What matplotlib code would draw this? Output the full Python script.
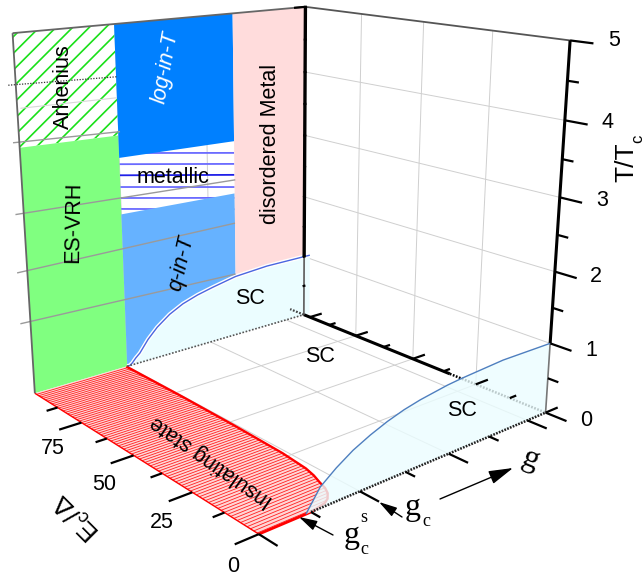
import numpy as np
import matplotlib
matplotlib.use("Agg")
import matplotlib.pyplot as plt
from mpl_toolkits.mplot3d.art3d import Poly3DCollection

plt.rcParams['font.family'] = ['Liberation Sans', 'DejaVu Sans']
plt.rcParams['mathtext.fontset'] = 'custom'
plt.rcParams['mathtext.rm'] = 'Liberation Sans'
plt.rcParams['mathtext.it'] = 'Liberation Sans:italic'
plt.rcParams['hatch.color'] = '#19e019'
plt.rcParams['hatch.linewidth'] = 1.2

W, H = 644, 577

# limits of the box
g_max = 3.25
E_max = 100
T_max = 5

# ticks
g_major = [0, 1, 2, 3]
g_minor = [0.5, 1.5, 2.5]
E_major = [0, 25, 50, 75]
E_minor = [12.5, 37.5, 62.5, 87.5]
E_back_major = [0, 25, 50, 75, 97]
T_major = [0, 1, 2, 3, 4, 5]
T_minor = [0.5, 1.5, 2.5, 3.5, 4.5]
E_labels = ['0', '25', '50', '75']
T_labels = ['0', '1', '2', '3', '4', '5']

# regions on the back wall (E = E_max), g and T
g_wall_1 = 1.0
g_wall_2 = 2.33
T_arrhenius = 3.5
T_log_left = 3.14
T_log_right = 3.10
T_q_left = 2.32
T_q_right = 2.29

# superconducting dome on the back wall
dome_g = [1.0, 1.03, 1.06, 1.1, 1.15, 1.25, 1.36, 1.51, 1.67, 1.85, 2.04, 2.33, 2.74, 3.33]
dome_T = [0.0, 0.0, 0.03, 0.09, 0.15, 0.33, 0.48, 0.63, 0.74, 0.82, 0.88, 0.96, 1.0, 1.0]

# superconducting dome on the front (E = 0)
sc_g = [0.45, 0.59, 0.75, 0.92, 1.1, 1.28, 1.46, 1.64, 1.95, 2.12, 2.63, 3.25]
sc_T = [0.0, 0.27, 0.43, 0.57, 0.68, 0.77, 0.84, 0.89, 0.95, 0.97, 1.01, 1.0]

# edge of the insulating state on the floor
ins_E = [100, 71.3, 48.1, 27, 17, 13, 9.5, 6.5, 4.2, 2.2, 1.1, 0]
ins_g = [0.99, 0.99, 0.98, 0.96, 0.93, 0.90, 0.86, 0.83, 0.79, 0.73, 0.67, 0.5]

# blue lines of the metallic region, T at both ends
metal_T_left = [3.21, 3.05, 2.89, 2.72, 2.56, 2.40]
metal_T_right = [2.92, 2.75, 2.58, 2.39, 2.22, 2.04]

# darker lines over the back wall: g, T at each end
wall_line_g = [(-0.06, 1.02), (-0.08, 2.34), (-0.10, 2.33), (-0.10, 2.33)]
wall_line_T = [(3.58, 3.51), (2.61, 2.50), (1.80, 1.82), (1.07, 1.0)]

camera_world = np.array([
    [0, 0, 0], [1, 0, 0], [2, 0, 0], [3, 0, 0], [3.25, 0, 0],
    [0, 25, 0], [0, 50, 0], [0, 75, 0], [0, 100, 0], [3.25, 100, 0],
    [3.25, 0, 1], [3.25, 0, 2], [3.25, 0, 3], [3.25, 0, 4], [3.25, 0, 5],
    [0, 100, 5], [3.25, 100, 5], [3.25, 100, 1], [3.25, 100, 2], [3.25, 100, 3], [3.25, 100, 4],
], float)
camera_pixel = np.array([
    [256.7, 533.3], [359, 491], [448, 453], [528, 421.7], [546.7, 412.3],
    [190.7, 492], [136.7, 457], [85, 425], [32.3, 391.7], [304, 313],
    [550.7, 343], [554, 271.7], [560, 197], [565, 120], [570, 40.7],
    [12.7, 32], [306, 6.7], [303.3, 257], [304, 197], [304.5, 136], [305, 73],
], float)


def fit_camera(world, pixel):
    rows = []
    for (x, y, z), (u, v) in zip(world, pixel):
        rows.append([x, y, z, 1, 0, 0, 0, 0, -u*x, -u*y, -u*z, -u])
        rows.append([0, 0, 0, 0, x, y, z, 1, -v*x, -v*y, -v*z, -v])
    P = np.linalg.svd(np.array(rows))[2][-1].reshape(3, 4)
    if (P @ [1, 50, 2, 1])[2] < 0:
        P = -P
    return P


camera = fit_camera(camera_world, camera_pixel)

fig = plt.figure(figsize=(W/100, H/100), dpi=100)
ax = fig.add_axes([0, 0, 1, 1], projection='3d', computed_zorder=False)
ax.set_axis_off()
ax.set_proj_type('ortho')
ax.patch.set_alpha(0)


def get_proj():
    # the picture has its own perspective, so the projection comes from the fit
    flip = np.array([[1, 0, 0], [0, -1, H], [0, 0, 1]], float)
    to_data = np.linalg.inv(ax.transData.get_affine().get_matrix())
    D = to_data @ flip @ camera
    return np.array([D[0], D[1], [0, 0, 0, 1], D[2]])


ax.get_proj = get_proj


def line(g, E, T, color='k', lw=1.0, z=5, **kw):
    n = max(np.size(g), np.size(E), np.size(T))
    g, E, T = [np.full(n, v) if np.size(v) == 1 else np.asarray(v, float) for v in (g, E, T)]
    ax.plot(g, E, T, color=color, lw=lw, zorder=z, clip_on=False,
            solid_capstyle='butt', dash_capstyle='butt', **kw)


def poly(g, E, T, face, z=2, **kw):
    n = max(np.size(g), np.size(E), np.size(T))
    g, E, T = [np.full(n, v) if np.size(v) == 1 else np.asarray(v, float) for v in (g, E, T)]
    p = Poly3DCollection([list(zip(g, E, T))], facecolors=face, linewidths=0,
                         edgecolors='none', zorder=z, clip_on=False, **kw)
    ax.add_collection3d(p, autolim=False)


def label(x, y, s, size=15.5, **kw):
    fig.text(x/W, 1 - y/H, s, fontsize=size, ha='center', va='center', **kw)


# grid
grid_kw = dict(color='#cfcfcf', lw=0.7, z=1)
for v in g_major[1:]:
    line(v, [0, E_max], 0, **grid_kw)
    line(v, E_max, [0, T_max], **grid_kw)
for v in E_major[1:]:
    line([0, g_max], v, 0, **grid_kw)
    line(g_max, v, [0, T_max], **grid_kw)
for v in T_major[1:-1]:
    line(g_max, [0, E_max], v, **grid_kw)

# back wall, metallic lines go under the blue regions
for i in range(len(metal_T_left)):
    line([g_wall_1, g_wall_2], E_max, [metal_T_left[i], metal_T_right[i]],
         color='#2020e8' if i == 2 else '#6a6aff', lw=1.3, z=2)

poly([0, g_wall_1, g_wall_1, 0], E_max, [T_arrhenius, T_arrhenius - 0.04, T_max, T_max], 'white', z=2, hatch='//')
poly([0, g_wall_1, g_wall_1, 0], E_max, [0, 0, T_arrhenius - 0.04, T_arrhenius], '#80ff80', z=3)
poly([g_wall_1, g_wall_2, g_wall_2, g_wall_1], E_max, [T_log_left, T_log_right, T_max, T_max], '#0080ff', z=3)
q_g = [g_wall_1] + dome_g[:12] + [g_wall_2, g_wall_1]
q_T = [0] + dome_T[:12] + [T_q_right, T_q_left]
poly(q_g, E_max, q_T, '#66b2ff', z=3)
pink_g = dome_g[11:13] + [g_max, g_max, g_wall_2]
pink_T = dome_T[11:13] + [1.0, T_max, T_max]
poly(pink_g, E_max, pink_T, '#ffdcdc', z=3)

for i in range(len(wall_line_g)):
    line(wall_line_g[i], E_max, wall_line_T[i], color='#9a9a9a', lw=1.0, z=4)
line([0.03, 1.0], E_max, [4.02, 3.99], color='#d8d8d8', lw=0.8, z=3)
line([-0.07, 1.01], E_max, [4.34, 4.28], color='#333333', lw=0.9, z=4, ls=(0, (1, 1.2)))

# superconducting regions
poly(dome_g + [dome_g[-1]], E_max, dome_T + [0], '#ebfdff', z=3.5)
line(dome_g, E_max, dome_T, color='white', lw=3, z=3.6)
line(dome_g, E_max, dome_T, color='#4a66e0', lw=1.0, z=3.7)
line([g_wall_1, g_max], E_max, 0, color='#555555', lw=1.2, z=5, ls=(0, (1, 1)))

# insulating state on the floor
ins_fill_g = [0] + ins_g[::-1] + [0]
ins_fill_E = [0] + ins_E[::-1] + [E_max]
poly(ins_fill_g, ins_fill_E, 0, '#ffd6d6', z=4)
for e in np.arange(0.6, E_max, 1.2):
    line([0, np.interp(e, ins_E[::-1], ins_g[::-1])], e, 0, color='#ff2020', lw=0.6, z=4.2)
line(ins_g, ins_E, 0, color='#ff0000', lw=1.7, z=4.3)
line([0, ins_g[-1]], 0, 0, color='#ff0000', lw=2.0, z=4.3)
line(0, [0, E_max], 0, color='#ff0000', lw=1.0, z=4.3)

# axes
black = dict(color='k', z=6)
line(g_max, [E_max, 35], 0, lw=2.2, **black)
line(g_max, [35, 0], 0, lw=1.8, color='k', z=4, ls=(0, (0.7, 0.6)))
line([ins_g[-1], g_max], 0, 0, lw=1.8, color='#222222', z=6, ls=(0, (0.7, 0.5)))
line(g_max, 0, [1, T_max], lw=2.2, **black)
line(g_max, 0, [0, 1], lw=1.2, color='#777777', z=6)
line(g_max, E_max, [1, T_max], lw=2.4, **black)
line(g_max, E_max, [0, 1], lw=1.3, color='#666666', z=6)
line(0, E_max, [0, T_max], lw=1.3, color='#666666', z=4.5)
line([0, g_max], E_max, T_max, lw=1.3, color='#666666', z=4.5)
line(g_max, [0, E_max], T_max, lw=1.3, color='#555555', z=4.5)

# ticks
for v in g_major:
    line(v, [0, -6.5], 0, lw=1.6, **black)
for v in g_minor:
    line(v, [0, -3.2], 0, lw=1.6, **black)
for v in E_major:
    line([0, -0.22], v, 0, lw=1.6, **black)
for v in E_minor:
    line([0, -0.11], v, 0, lw=1.6, **black)
for v in E_back_major:
    line([g_max, g_max + 0.17], v, 0, lw=1.6, **black)
for v in E_minor:
    line([g_max, g_max + 0.09], v, 0, lw=1.6, **black)
for v in T_major:
    line(g_max, [0, -7], v, lw=1.6, **black)
for v in T_minor:
    line(g_max, [0, -3.5], v, lw=1.6, **black)
for v in T_major[1:]:
    line([g_max - 0.02, g_max + 0.02], E_max, v, lw=1.6, **black)
for v in T_minor:
    line([g_max - 0.02, g_max + 0.02], E_max, v, lw=1.6, **black)
line([g_max, g_max - 0.15], E_max, T_max, lw=1.6, **black)
line(g_max, [E_max, E_max + 7], 0, lw=1.6, color='#444444', z=6, ls=(0, (0.8, 0.7)))

# front dome goes over the back axis
poly(sc_g + [g_max], 0, sc_T + [0], '#ebfdff', z=5, alpha=0.8)
line(sc_g, 0, sc_T, color='#4f7fbf', lw=1.0, z=6)

# tick labels
for s, x, y in zip(E_labels, [233, 162, 104, 53], [567, 523, 484, 449]):
    label(x, y, s)
for s, x, y in zip(T_labels, [586, 591, 596, 602, 608, 614], [421, 350, 277, 201, 122, 40]):
    label(x, y, s)

# axis labels
label(626, 162, 'T/T', size=19, rotation=90)
label(638, 139, 'c', size=12, rotation=90)
label(77, 517, r'E$_{\mathrm{c}}$/$\mathrm{\Delta}$', size=19, rotation=135, rotation_mode='anchor')

# region labels
label(63, 87, 'Arhenius', rotation=90)
label(73, 222, 'ES-VRH', rotation=89)
label(166, 67, 'log-in-T', rotation=80, style='italic', color='white')
label(181, 263, 'q-in-T', rotation=77, style='italic')
label(173, 177, 'metallic')
label(270, 144, 'disordered Metal', rotation=90)
label(250, 298, 'SC')
label(320, 357, 'SC')
label(462, 410, 'SC')
label(212, 461, 'Insulating state', rotation=145, rotation_mode='anchor')

# g labels, serif like the reference
serif = dict(family='Liberation Serif')
label(530, 460, 'g', size=23, rotation=-22, **serif)
label(413, 507, 'g', size=23, **serif)
label(426, 522, 'c', size=13, **serif)
label(352, 535, 'g', size=23, **serif)
label(364, 550, 'c', size=13, **serif)
label(364, 518, 's', size=13, **serif)

# arrows
for (x0, y0), (x1, y1), scale in [((440, 499), (513, 468), 15), ((402, 517), (379, 502), 11), ((333, 535), (299, 517), 11)]:
    arrow = dict(arrowstyle='-|>,head_length=1.0,head_width=0.28', color='k', lw=1.0,
                 shrinkA=0, shrinkB=0, mutation_scale=scale)
    ax.annotate('', xy=(x1/W, 1 - y1/H), xytext=(x0/W, 1 - y0/H), xycoords='figure fraction',
                textcoords='figure fraction', arrowprops=arrow, annotation_clip=False, zorder=10)

fig.savefig('out.png', dpi=100)
